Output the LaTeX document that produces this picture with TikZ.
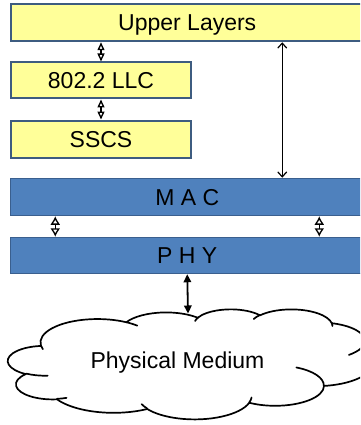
\documentclass[tikz,border=0pt]{standalone}
\usepackage{fontspec}
\setmainfont{Liberation Sans}
\usetikzlibrary{arrows.meta}
\definecolor{padyellow}{HTML}{FFFF99}
\definecolor{padedge}{HTML}{3E5C80}
\definecolor{layerblue}{HTML}{4F81BD}
\definecolor{layeredge}{HTML}{3A5F8E}

\begin{document}
\begin{tikzpicture}[x=1pt,y=-1pt,
  lbl/.style={font=\fontsize{23}{27}\selectfont, text=black, inner sep=0pt, text height=16.5pt, text depth=0pt},
  ybox/.style={lbl, rectangle, draw=padedge, line width=2pt, fill=padyellow},
  bbox/.style={lbl, rectangle, draw=layeredge, line width=1.5pt, fill=layerblue},
  tinyarrow/.style={line width=1.4pt, {Triangle[open,length=8pt,width=7pt]}-{Triangle[open,length=8pt,width=7pt]}},
  macarrow/.style={line width=1.3pt, {Latex[open,length=8.5pt,width=10pt]}-{Latex[open,length=8.5pt,width=10pt]}},
  longarrow/.style={line width=1.2pt, {Straight Barb[length=5pt,width=9pt]}-{Straight Barb[length=5pt,width=9pt]}},
  thickarrow/.style={line width=1.8pt, {Triangle[length=8pt,width=7.5pt]}-{Triangle[length=8pt,width=7.5pt]}},
  cloudline/.style={line width=1.7pt, draw=black, line join=round}
]
\useasboundingbox (0,0) rectangle (360,425);
\clip (0,0) rectangle (360,425);
\fill[white] (0,0) rectangle (360,425);

% protocol stack
\node[ybox, minimum width=353.5pt, minimum height=37pt] (up) at (187.25,22.75) {Upper Layers};
\node[ybox, minimum width=180pt, minimum height=36pt] (llc) at (101,80.5) {802.2 LLC};
\node[ybox, minimum width=180pt, minimum height=37pt] (sscs) at (101,139) {SSCS};
\node[bbox, minimum width=353.5pt, minimum height=37pt] (mac) at (187.25,197) {M A C};
\node[bbox, minimum width=353.5pt, minimum height=36pt] (phy) at (187.25,255.5) {P H Y};

% cloud outline (path units of 1/100 of a 432 x 432 frame)
\begin{scope}[shift={(8pt,-309pt)}, x=0.84491pt, y=-0.25463pt]
  \filldraw[cloudline, fill=white] (39.00,143.70)
    arc[start angle=-187.75, delta angle=128.11, x radius=67.53, y radius=91.90]
    arc[start angle=-152.02, delta angle=106.60, x radius=53.33, y radius=72.67]
    arc[start angle=-153.48, delta angle=116.17, x radius=43.65, y radius=59.45]
    arc[start angle=-139.69, delta angle=129.48, x radius=48.57, y radius=65.95]
    arc[start angle=-74.77, delta angle=97.98, x radius=53.33, y radius=72.73]
    arc[start angle=-37.52, delta angle=119.38, x radius=67.75, y radius=92.20]
    arc[start angle=0.46, delta angle=121.52, x radius=57.85, y radius=78.67]
    arc[start angle=16.85, delta angle=129.40, x radius=67.52, y radius=92.15]
    arc[start angle=58.98, delta angle=91.21, x radius=77.20, y radius=105.43]
    arc[start angle=-276.69, delta angle=139.79, x radius=43.60, y radius=59.18]
    arc[start angle=-239.64, delta angle=143.75, x radius=43.45, y radius=59.45]
    -- cycle;
  \draw[cloudline, line cap=round]
    (46.93,261.77) arc[start angle=85.55, delta angle=34.81, x radius=43.45, y radius=59.45]
    (69.28,348.99) arc[start angle=68.24, delta angle=15.07, x radius=43.60, y radius=59.18]
    (164.78,390.90) arc[start angle=146.25, delta angle=12.22, x radius=67.52, y radius=92.15]
    (288.27,347.51) arc[start angle=4.74, delta angle=12.11, x radius=67.52, y radius=92.15]
    (341.29,229.54) arc[start angle=-64.03, delta angle=64.49, x radius=57.85, y radius=78.67]
    (417.98,153.54) arc[start angle=23.21, delta angle=26.44, x radius=53.33, y radius=72.73]
    (383.24,54.26) arc[start angle=-10.21, delta angle=11.03, x radius=48.57, y radius=65.95]
    (290.78,39.52) arc[start angle=-156.27, delta angle=16.58, x radius=48.57, y radius=65.95]
    (221.41,47.20) arc[start angle=-167.73, delta angle=14.25, x radius=43.65, y radius=59.45]
    (140.00,51.92) arc[start angle=-59.64, delta angle=13.92, x radius=67.53, y radius=91.90]
    (41.27,157.89) arc[start angle=163.19, delta angle=9.07, x radius=67.53, y radius=91.90];
\end{scope}
\node[lbl] (med) at (177.5,360.5) {Physical Medium};
\coordinate (cloudtop) at (188,313.5);

% connectors
\draw[tinyarrow] (llc.north |- up.south) -- (llc.north);
\draw[tinyarrow] (llc.south) -- (sscs.north);
\draw[longarrow] ([xshift=95pt]up.south) -- ([xshift=95pt]mac.north);
\draw[macarrow] ([xshift=-132pt]mac.south) -- ([xshift=-132pt]phy.north);
\draw[macarrow] ([xshift=132pt]mac.south) -- ([xshift=132pt]phy.north);
\draw[thickarrow] (phy.south) -- (cloudtop);
\end{tikzpicture}
\end{document}
